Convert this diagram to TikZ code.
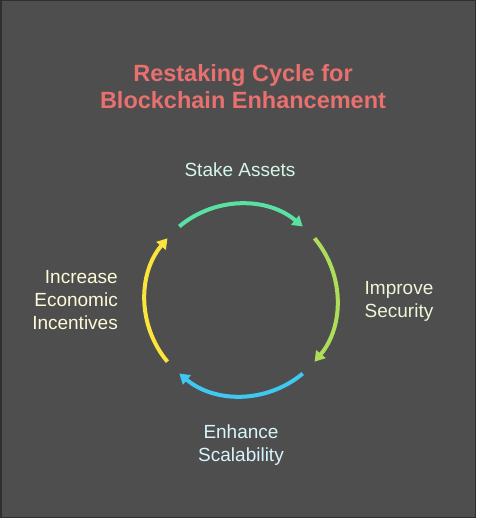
\documentclass[tikz,border=0pt]{standalone}
\usepackage{fontspec}
\setmainfont{Liberation Sans}
\usepackage{tikz}
\usetikzlibrary{arrows.meta}
\definecolor{bgcol}{HTML}{4E4E4E}
\definecolor{framecol}{HTML}{2F2F2F}
\definecolor{titlecol}{HTML}{E8706E}
\definecolor{stakecol}{HTML}{5BE0A4}
\definecolor{securecol}{HTML}{AEDD5A}
\definecolor{scalecol}{HTML}{3FC9F2}
\definecolor{incentcol}{HTML}{FBE43C}
\tikzstyle{step label} = [font=\fontsize{19}{23}\selectfont, align=center, inner sep=0pt]
\tikzstyle{cycle arc} = [line width=4pt, -{Triangle[length=10pt,width=12pt]}]

\begin{document}
\begin{tikzpicture}[x=1pt,y=-1pt]

\fill[framecol] (0,0) rectangle (476,518);
\fill[bgcol] (1.5,1.5) rectangle (474.5,516.5);

\node (title) [font=\bfseries\fontsize{23.5}{27}\selectfont, text=titlecol, align=center] at (243,87) {Restaking Cycle for\\Blockchain Enhancement};

\coordinate (c) at (241,300);

\node (stake) [step label, text=stakecol!25!white] at (240,170) {Stake Assets};
\node (secure) [step label, text=securecol!25!white] at (399,301) {Improve\\Security};
\node (scale) [step label, text=scalecol!20!white] at (241,445) {Enhance\\Scalability};
\node (incent) [step label, text=incentcol!20!white, align=right, anchor=east] at (118,300) {Increase\\Economic\\Incentives};

% y axis points down, so angles run clockwise on the page
\draw[cycle arc, stakecol] ([shift={(-130:96)}]c) arc[start angle=-130, end angle=-50, radius=96];
\draw[cycle arc, securecol] ([shift={(-40:96)}]c) arc[start angle=-40, end angle=40, radius=96];
\draw[cycle arc, scalecol] ([shift={(50:96)}]c) arc[start angle=50, end angle=130, radius=96];
\draw[cycle arc, incentcol] ([shift={(140:96)}]c) arc[start angle=140, end angle=220, radius=96];

\end{tikzpicture}
\end{document}
